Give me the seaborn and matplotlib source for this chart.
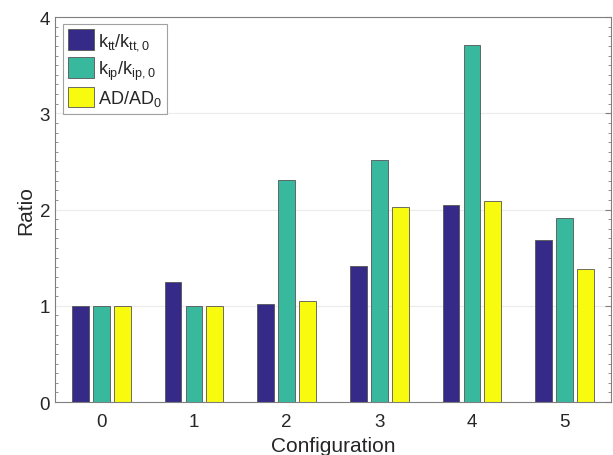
import numpy as np
import pandas as pd
import matplotlib
matplotlib.use("Agg")
import matplotlib.pyplot as plt
from matplotlib.ticker import MultipleLocator
import seaborn as sns

configs = ["0", "1", "2", "3", "4", "5"]
k_tt = [1.00, 1.25, 1.02, 1.41, 2.05, 1.68]
k_ip = [1.00, 1.00, 2.31, 2.51, 3.71, 1.91]
ad = [1.00, 1.00, 1.05, 2.03, 2.085, 1.385]
series_labels = [r"$\mathrm{k_{tt}/k_{tt,0}}$", r"$\mathrm{k_{ip}/k_{ip,0}}$", r"$\mathrm{AD/AD_0}$"]
colors = ["#352a87", "#38b99e", "#f9fb0e"]

df = pd.DataFrame({
    "Configuration": configs * 3,
    "Ratio": k_tt + k_ip + ad,
    "Series": [series_labels[0]] * 6 + [series_labels[1]] * 6 + [series_labels[2]] * 6,
})

sns.set_style("white")
plt.rcParams["font.family"] = ["Liberation Sans", "DejaVu Sans"]
plt.rcParams["mathtext.fontset"] = "custom"
plt.rcParams["mathtext.rm"] = "Liberation Sans"
plt.rcParams["mathtext.it"] = "Liberation Sans:italic"

fig = plt.figure(figsize=(6.13, 4.56), dpi=100)
ax = fig.add_axes([0.0897, 0.1162, 0.9070, 0.8443])

sns.barplot(data=df, x="Configuration", y="Ratio", hue="Series",
            hue_order=series_labels, palette=colors, width=0.675, gap=0.2,
            edgecolor="#555555", linewidth=0.6, ax=ax, saturation=1)

ax.set_xlim(-0.5, 5.5)
ax.set_ylim(0, 4)
ax.yaxis.set_major_locator(MultipleLocator(1))
ax.yaxis.set_minor_locator(MultipleLocator(0.1))
ax.grid(axis="y", which="major", color="#ebebeb", linewidth=0.8)
ax.set_axisbelow(True)
for s in ax.spines.values():
    s.set_color("#7f7f7f")
    s.set_linewidth(0.8)
ax.tick_params(axis="both", which="both", direction="in", colors="#7f7f7f",
               labelcolor="#262626", labelsize=13.5, right=True, top=False)
ax.tick_params(axis="y", which="major", length=4)
ax.tick_params(axis="y", which="minor", length=2, left=True, right=True)
ax.tick_params(axis="x", which="major", length=0, pad=8)
ax.set_xlabel("Configuration", fontsize=15, color="#262626", labelpad=4)
ax.set_ylabel("Ratio", fontsize=15, color="#262626", labelpad=3)

leg = ax.legend(loc="upper left", bbox_to_anchor=(0.014, 0.982), fontsize=13,
                frameon=True, fancybox=False, edgecolor="#8a8a8a",
                handlelength=1.45, handleheight=1.35, handletextpad=0.2,
                labelspacing=0.3, borderpad=0.3, borderaxespad=0.0)
leg.get_frame().set_linewidth(0.8)
leg.set_title(None)

fig.savefig("out.png", dpi=100)
